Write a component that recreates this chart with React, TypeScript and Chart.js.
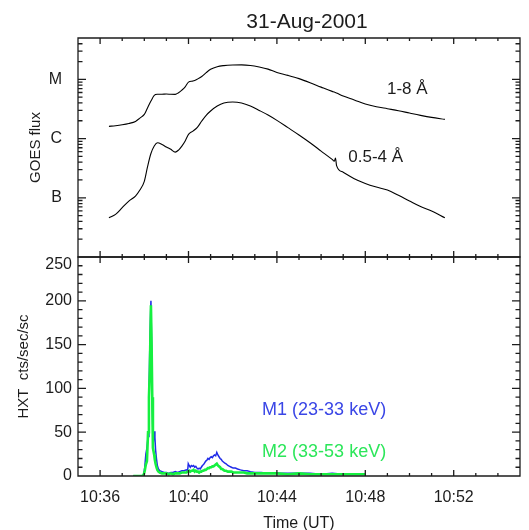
import React, { useEffect, useRef } from 'react';
import { Chart, registerables } from 'chart.js';

Chart.register(...registerables);

const FONT = '"Liberation Sans", Arial, Helvetica, sans-serif';
const INK = '#1c1c1c';

// Time axis in minutes after 10:00 UT
const TIME_MIN = 35;
const TIME_MAX = 55;
const TIME_TICK_VALUES = [36, 40, 44, 48, 52];
const TIME_TICK_LABELS = ['10:36', '10:40', '10:44', '10:48', '10:52'];

// GOES X-ray flux (W m^-2)
const GOES_TIME = [
  36.4, 36.7, 37.0, 37.3, 37.6, 37.8, 38.0, 38.15, 38.3, 38.45,
  38.6, 38.8, 39.0, 39.2, 39.4, 39.55, 39.7, 39.85, 40.0, 40.2,
  40.4, 40.6, 40.8, 41.0, 41.3, 41.6, 42.0, 42.4, 42.8, 43.2,
  43.6, 44.0, 44.5, 45.0, 45.5, 46.0, 46.5, 46.6, 46.65, 46.7,
  47.0, 47.5, 48.0, 48.5, 49.0, 49.5, 50.0, 50.5, 51.0, 51.6,
];
const GOES_LONG = [
  1.61e-6, 1.65e-6, 1.71e-6, 1.8e-6, 1.95e-6, 2.22e-6, 2.56e-6, 3.33e-6, 4.3e-6, 5.37e-6,
  5.6e-6, 5.62e-6, 5.65e-6, 5.6e-6, 5.58e-6, 5.96e-6, 6.6e-6, 7.5e-6, 9.0e-6, 9.37e-6,
  1.01e-5, 1.12e-5, 1.3e-5, 1.48e-5, 1.64e-5, 1.71e-5, 1.75e-5, 1.76e-5, 1.72e-5, 1.62e-5,
  1.49e-5, 1.31e-5, 1.17e-5, 1.03e-5, 8.8e-6, 7.4e-6, 6.27e-6, 6.1e-6, 6.0e-6, 5.9e-6,
  5.22e-6, 4.5e-6, 3.85e-6, 3.46e-6, 3.2e-6, 2.96e-6, 2.7e-6, 2.47e-6, 2.28e-6, 2.11e-6,
];
const GOES_SHORT = [
  4.6e-8, 5.25e-8, 6.8e-8, 8.8e-8, 1.07e-7, 1.35e-7, 1.9e-7, 3.4e-7, 5.6e-7, 7.5e-7,
  8.5e-7, 7.97e-7, 7.2e-7, 6.58e-7, 5.9e-7, 6.4e-7, 7.46e-7, 9.1e-7, 1.18e-6, 1.34e-6,
  1.55e-6, 1.98e-6, 2.47e-6, 2.92e-6, 3.54e-6, 3.98e-6, 4.14e-6, 3.98e-6, 3.54e-6, 2.99e-6,
  2.5e-6, 2.03e-6, 1.53e-6, 1.15e-6, 8.5e-7, 6.15e-7, 4.45e-7, 4.15e-7, 4.7e-7, 3.5e-7,
  2.7e-7, 2.1e-7, 1.75e-7, 1.52e-7, 1.35e-7, 1.1e-7, 8.8e-8, 7.1e-8, 6.0e-8, 4.6e-8,
];
const GOES_MIN = 1e-8;
const GOES_MAX = 5e-5;
const GOES_CLASS_VALUES = [1e-7, 1e-6, 1e-5];
const GOES_CLASS_LABELS = ['B', 'C', 'M'];

// HXT count rates (cts/sec/subcollimator)
const HXT_TIME = [
  37.5, 37.7, 37.9, 37.97, 38.02, 38.07, 38.12, 38.17, 38.21, 38.25,
  38.3, 38.33, 38.36, 38.39, 38.42, 38.45, 38.48, 38.51, 38.55, 38.59,
  38.64, 38.7, 38.8, 38.9, 39.0, 39.1, 39.2, 39.3, 39.4, 39.5,
  39.6, 39.7, 39.8, 39.9, 39.96, 39.99, 40.03, 40.08, 40.13, 40.18,
  40.23, 40.28, 40.33, 40.38, 40.43, 40.48, 40.53, 40.58, 40.63, 40.68,
  40.73, 40.78, 40.83, 40.88, 40.93, 40.98, 41.03, 41.08, 41.13, 41.18,
  41.23, 41.28, 41.33, 41.38, 41.43, 41.48, 41.53, 41.58, 41.63, 41.7,
  41.78, 41.86, 41.94, 42.02, 42.12, 42.22, 42.35, 42.5, 42.65, 42.8,
  43.0, 43.3, 43.6, 44.0, 44.5, 45.0, 45.5, 46.0, 46.5, 47.0,
  47.5, 48.0,
];
const HXT_M1 = [
  0, 0, 0, 1, 10, 25, 32, 45, 90, 150,
  200, 150, 85, 45, 42, 51, 44, 30, 20, 12,
  8, 6, 5, 4, 4, 3, 4, 4, 5, 4,
  5, 6, 6, 7, 6, 14, 12, 10, 12, 11,
  12, 10, 11, 9, 8, 9, 8, 10, 12, 13,
  15, 17, 18, 20, 19, 21, 22, 21, 23, 24,
  23, 27, 24, 22, 20, 19, 17, 16, 15, 14,
  12, 11, 10, 9, 9, 8, 7, 6, 6, 5,
  4, 4, 3, 3, 3, 3, 3, 2, 3, 2,
  2, 2,
];
const HXT_M2 = [
  0, 0, 0, 1, 6, 13, 17, 50, 90, 120,
  195, 150, 90, 32, 28, 24, 18, 14, 10, 7,
  5, 4, 3, 3, 3, 2, 3, 2, 3, 3,
  3, 4, 4, 4, 5, 5, 6, 5, 6, 6,
  7, 5, 6, 5, 5, 4, 5, 5, 6, 6,
  7, 7, 8, 9, 9, 10, 10, 11, 11, 12,
  13, 14, 12, 11, 10, 8, 8, 7, 6, 6,
  5, 5, 5, 4, 4, 4, 4, 4, 3, 3,
  3, 3, 3, 3, 2, 3, 2, 2, 2, 2,
  2, 2,
];
const HXT_MIN = 0;
const HXT_MAX = 250;
const HXT_TICK_VALUES = [0, 50, 100, 150, 200, 250];

const M1_COLOR = '#1f2ae8';
const M2_COLOR = '#16f040';

function pairs(xs: number[], ys: number[]) {
  return xs.map((x, i) => ({ x, y: ys[i] }));
}

// Fixed axis thickness, without the label overhang Chart.js reserves
function fixWidth(w: number) {
  return (s: any) => {
    s.width = w;
    s.paddingTop = 0;
    s.paddingBottom = 0;
  };
}
function fixHeight(h: number) {
  return (s: any) => {
    s.height = h;
    s.paddingLeft = 0;
    s.paddingRight = 0;
  };
}

type YTick = { value: number; major: boolean };

// Boxed frame with inward tick marks on all four sides
function framePlugin(yTicks: () => YTick[]) {
  return {
    id: 'boxFrame',
    afterDatasetsDraw(chart: any) {
      const { ctx, chartArea: a, scales } = chart;
      const xs = scales.x;
      const ys = scales.y;
      ctx.save();
      ctx.strokeStyle = INK;
      ctx.lineWidth = 1.3;
      ctx.beginPath();
      ctx.rect(a.left, a.top, a.right - a.left, a.bottom - a.top);
      for (let m = Math.ceil(xs.min); m <= xs.max; m++) {
        const px = xs.getPixelForValue(m);
        const len = m % 4 === 0 ? 6 : 3;
        ctx.moveTo(px, a.bottom);
        ctx.lineTo(px, a.bottom - len);
        ctx.moveTo(px, a.top);
        ctx.lineTo(px, a.top + len);
      }
      for (const t of yTicks()) {
        const py = ys.getPixelForValue(t.value);
        const len = t.major ? 8 : 4.5;
        ctx.moveTo(a.left, py);
        ctx.lineTo(a.left + len, py);
        ctx.moveTo(a.right, py);
        ctx.lineTo(a.right - len, py);
      }
      ctx.stroke();
      ctx.restore();
    },
  };
}

// Keep the topmost y label just inside the panel, below the frame line
const topLabelInset = {
  id: 'topLabelInset',
  beforeDraw(chart: any) {
    const s = chart.scales.y;
    const items = s.getLabelItems(chart.chartArea);
    const last = items[items.length - 1];
    if (last && !last.inset) {
      last.options.translation[1] += 8;
      last.inset = true;
    }
  },
};

type Note = { text: string; x: number; y: number; color: string; size: number };

function notesPlugin(notes: Note[]) {
  return {
    id: 'notes',
    afterDraw(chart: any) {
      const { ctx, scales } = chart;
      ctx.save();
      ctx.textAlign = 'left';
      ctx.textBaseline = 'alphabetic';
      for (const n of notes) {
        ctx.font = `${n.size}px ${FONT}`;
        ctx.fillStyle = n.color;
        ctx.fillText(n.text, scales.x.getPixelForValue(n.x), scales.y.getPixelForValue(n.y));
      }
      ctx.restore();
    },
  };
}

const titlePlugin = {
  id: 'pageTitle',
  afterDraw(chart: any) {
    const { ctx } = chart;
    ctx.save();
    ctx.font = `21px ${FONT}`;
    ctx.fillStyle = INK;
    ctx.textAlign = 'center';
    ctx.textBaseline = 'alphabetic';
    ctx.fillText('31-Aug-2001', 307, 28);
    ctx.restore();
  },
};

function goesTicks(): YTick[] {
  const out: YTick[] = [];
  for (let e = -8; e <= -5; e++) {
    for (let k = 1; k <= 9; k++) {
      const v = k * Math.pow(10, e);
      if (v >= GOES_MIN * 0.999 && v <= GOES_MAX * 1.001) out.push({ value: v, major: k === 1 });
    }
  }
  return out;
}

function hxtTicks(): YTick[] {
  const out: YTick[] = [];
  for (let v = HXT_MIN; v <= HXT_MAX; v += 10) out.push({ value: v, major: v % 50 === 0 });
  return out;
}

export default function App() {
  const topRef = useRef<HTMLCanvasElement>(null);
  const botRef = useRef<HTMLCanvasElement>(null);

  useEffect(() => {
    const goes = new Chart(topRef.current!, {
      type: 'line',
      data: {
        datasets: [
          {
            label: '1-8 Å',
            data: pairs(GOES_TIME, GOES_LONG),
            borderColor: '#000',
            borderWidth: 1.1,
            pointRadius: 0,
            cubicInterpolationMode: 'monotone',
          },
          {
            label: '0.5-4 Å',
            data: pairs(GOES_TIME, GOES_SHORT),
            borderColor: '#000',
            borderWidth: 1.1,
            pointRadius: 0,
            cubicInterpolationMode: 'monotone',
          },
        ],
      },
      options: {
        responsive: false,
        animation: false,
        devicePixelRatio: 1,
        parsing: false,
        layout: { autoPadding: false, padding: { top: 38, right: 9, bottom: 0, left: 0 } },
        plugins: { legend: { display: false }, tooltip: { enabled: false } },
        scales: {
          x: {
            type: 'linear',
            min: TIME_MIN,
            max: TIME_MAX,
            afterFit: fixHeight(5),
            grid: { display: false, drawTicks: false },
            border: { display: false },
            ticks: { display: false },
          },
          y: {
            type: 'logarithmic',
            min: GOES_MIN,
            max: GOES_MAX,
            afterFit: fixWidth(78),
            afterBuildTicks: (s: any) => { s.ticks = GOES_CLASS_VALUES.map((value) => ({ value })); },
            grid: { display: false, drawTicks: false },
            border: { display: false },
            ticks: {
              autoSkip: false,
              padding: 16,
              color: INK,
              font: { family: FONT, size: 16 },
              callback: (_v: any, i: number) => GOES_CLASS_LABELS[i],
            },
            title: {
              display: true,
              text: 'GOES flux',
              color: INK,
              font: { family: FONT, size: 15 },
              padding: { top: 27, bottom: 0 },
            },
          },
        },
      },
      plugins: [
        framePlugin(goesTicks),
        notesPlugin([
          { text: '1-8 Å', x: 48.98, y: 5.58e-6, color: INK, size: 17 },
          { text: '0.5-4 Å', x: 47.23, y: 3.96e-7, color: INK, size: 17 },
        ]),
        titlePlugin,
      ],
    } as any);

    const hxt = new Chart(botRef.current!, {
      type: 'line',
      data: {
        datasets: [
          {
            label: 'M1 (23-33 keV)',
            data: pairs(HXT_TIME, HXT_M1),
            borderColor: M1_COLOR,
            borderWidth: 1.5,
            pointRadius: 0,
            tension: 0,
            order: 1,
          },
          {
            label: 'M2 (33-53 keV)',
            data: pairs(HXT_TIME, HXT_M2),
            borderColor: M2_COLOR,
            borderWidth: 2.6,
            pointRadius: 0,
            tension: 0,
            order: 0,
          },
        ],
      },
      options: {
        responsive: false,
        animation: false,
        devicePixelRatio: 1,
        parsing: false,
        layout: { autoPadding: false, padding: { top: 7, right: 9, bottom: 0, left: 0 } },
        plugins: { legend: { display: false }, tooltip: { enabled: false } },
        scales: {
          x: {
            type: 'linear',
            min: TIME_MIN,
            max: TIME_MAX,
            afterFit: fixHeight(64),
            afterBuildTicks: (s: any) => { s.ticks = TIME_TICK_VALUES.map((value) => ({ value })); },
            grid: { display: false, drawTicks: false },
            border: { display: false },
            ticks: {
              autoSkip: false,
              maxRotation: 0,
              padding: 12,
              color: INK,
              font: { family: FONT, size: 16 },
              callback: (_v: any, i: number) => TIME_TICK_LABELS[i],
            },
            title: {
              display: true,
              text: 'Time (UT)',
              color: INK,
              font: { family: FONT, size: 16 },
              padding: { top: 0, bottom: 7 },
            },
          },
          y: {
            type: 'linear',
            min: HXT_MIN,
            max: HXT_MAX,
            afterFit: fixWidth(78),
            afterBuildTicks: (s: any) => { s.ticks = HXT_TICK_VALUES.map((value) => ({ value })); },
            grid: { display: false, drawTicks: false },
            border: { display: false },
            ticks: {
              autoSkip: false,
              padding: 6,
              color: INK,
              font: { family: FONT, size: 16 },
            },
            title: {
              display: true,
              text: 'HXT  cts/sec/sc',
              color: INK,
              font: { family: FONT, size: 15 },
              padding: { top: 15, bottom: 0 },
            },
          },
        },
      },
      plugins: [
        topLabelInset,
        framePlugin(hxtTicks),
        notesPlugin([
          { text: 'M1 (23-33 keV)', x: 43.33, y: 69.6, color: '#3a46e6', size: 18 },
          { text: 'M2 (33-53 keV)', x: 43.33, y: 21.7, color: '#2ce65a', size: 18 },
        ]),
      ],
    } as any);

    return () => {
      goes.destroy();
      hxt.destroy();
    };
  }, []);

  return (
    <div
      style={{
        position: 'fixed',
        left: 0,
        top: 0,
        width: 529,
        height: 530,
        overflow: 'hidden',
        background: '#fff',
      }}
    >
      <canvas ref={topRef} width={529} height={262} style={{ position: 'absolute', left: 0, top: 0 }} />
      <canvas ref={botRef} width={529} height={290} style={{ position: 'absolute', left: 0, top: 250 }} />
    </div>
  );
}
